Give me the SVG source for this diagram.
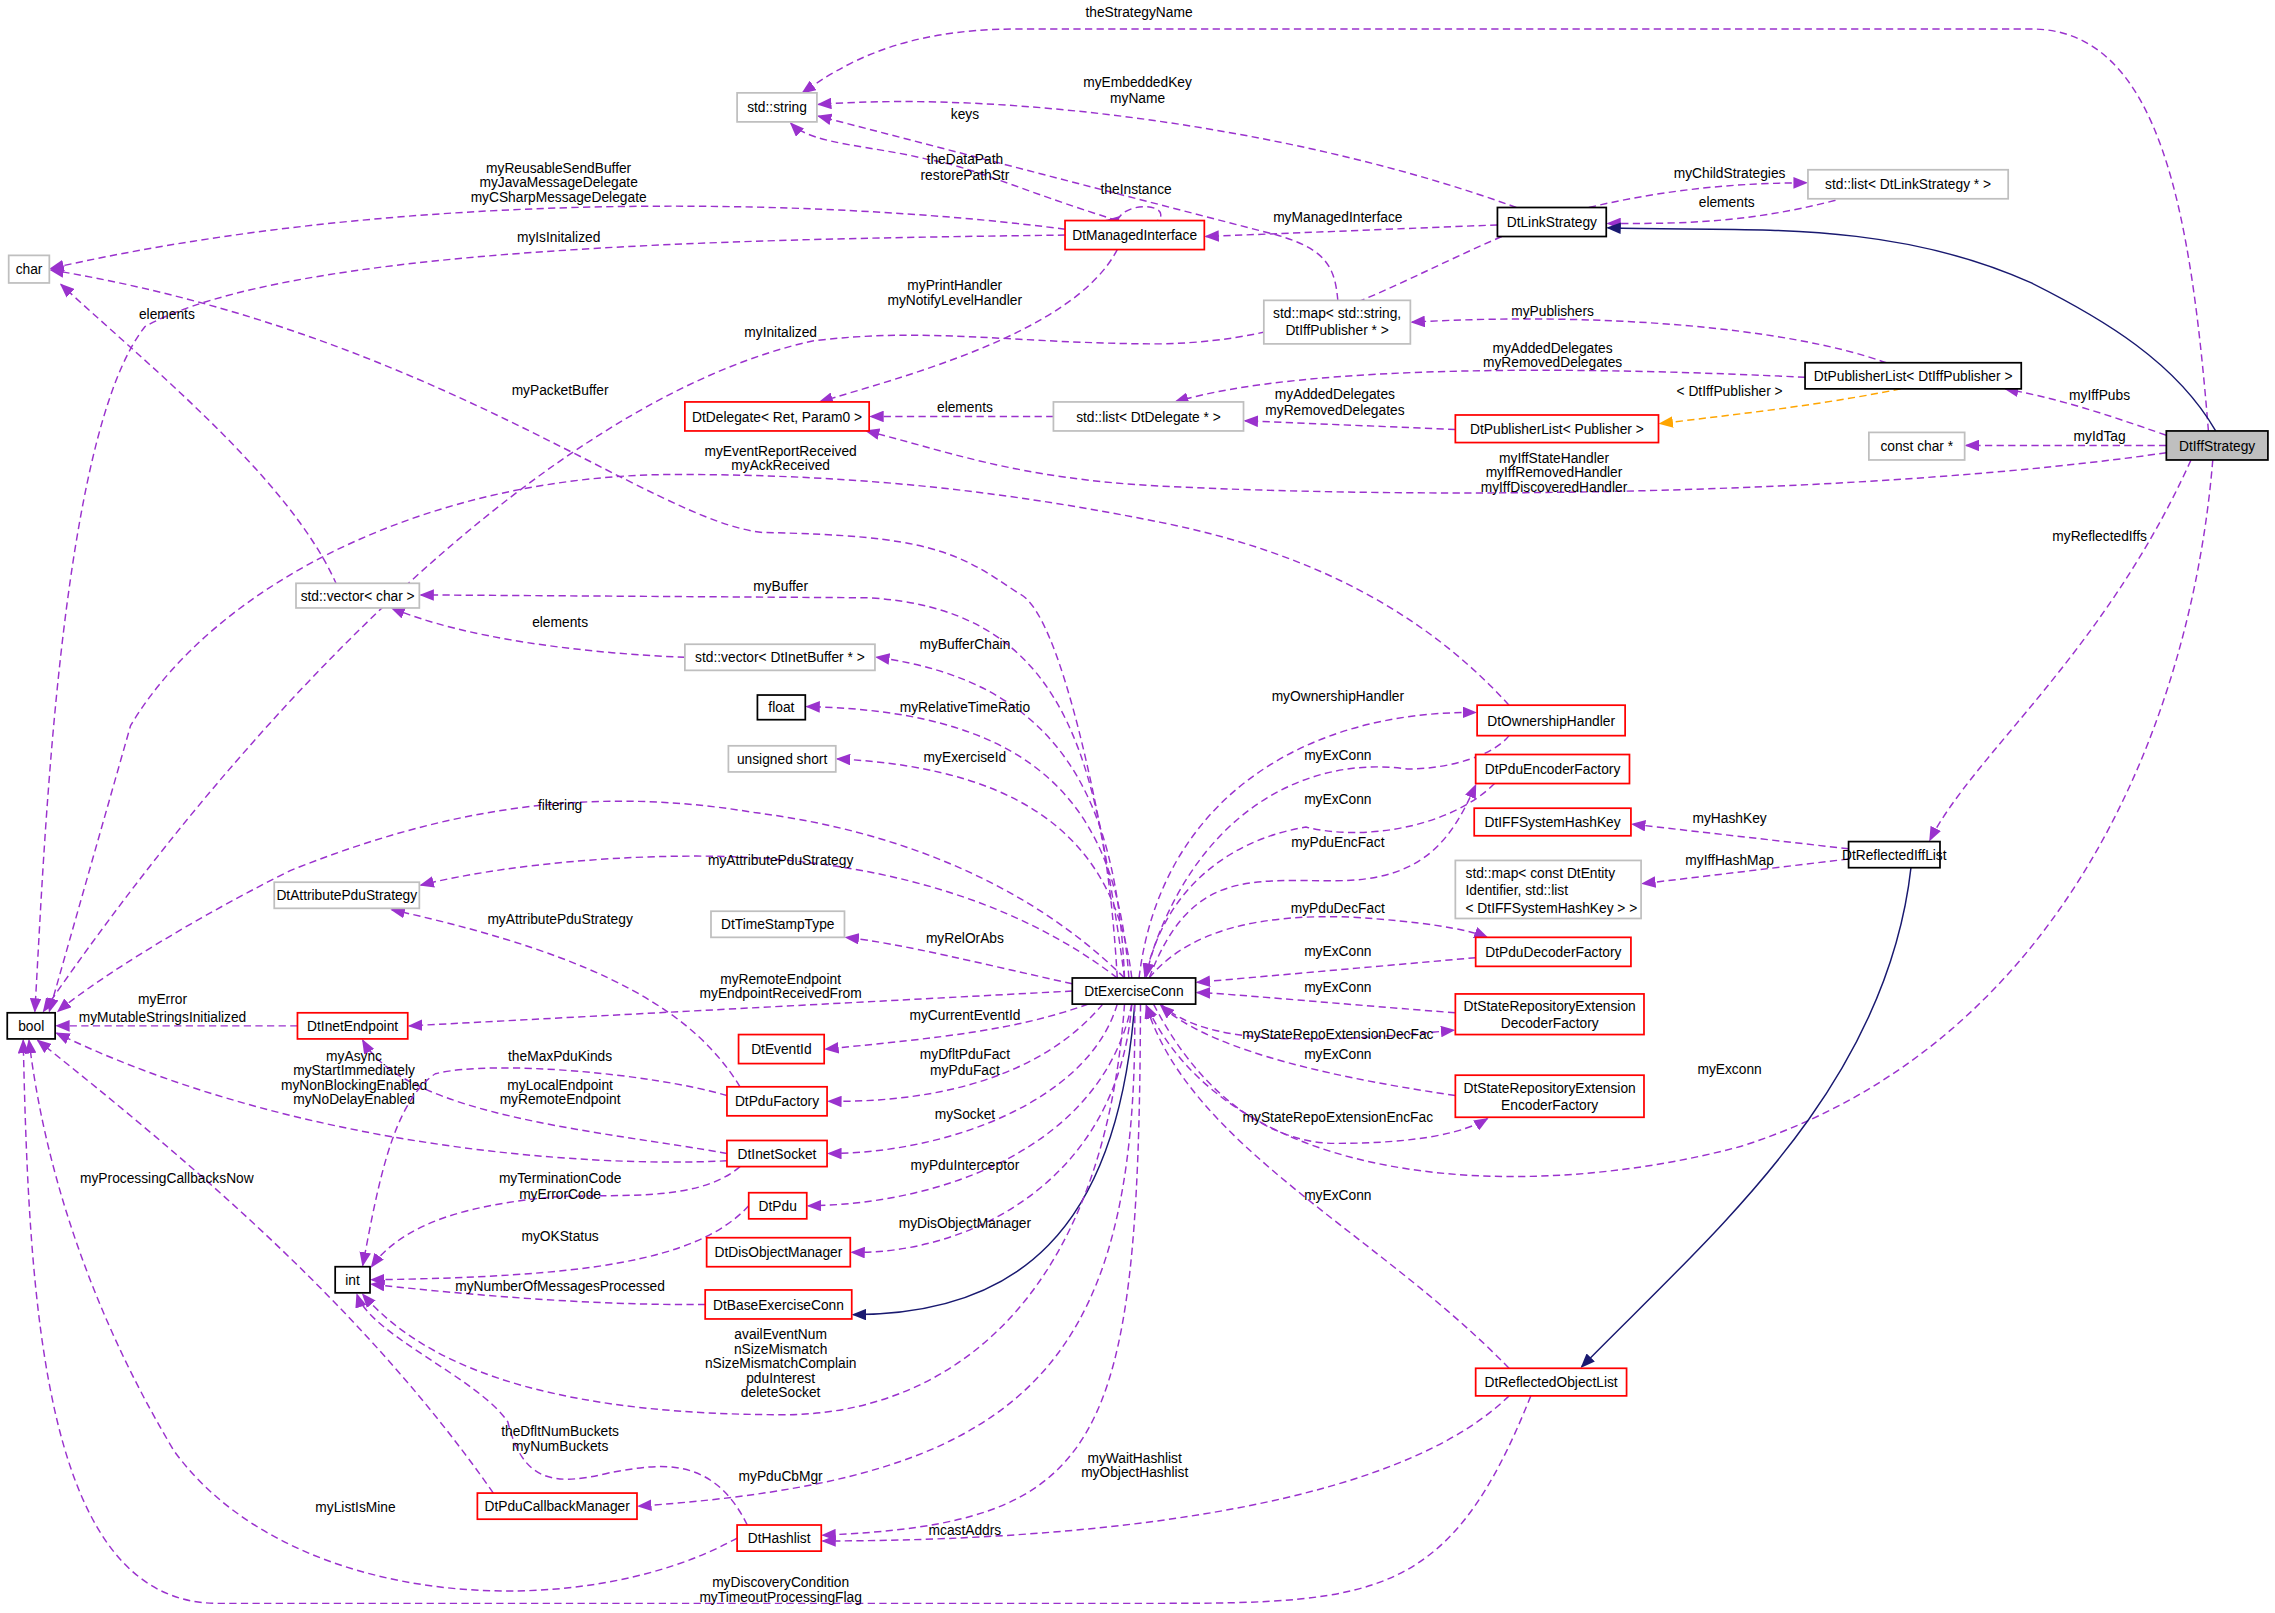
<svg xmlns="http://www.w3.org/2000/svg" width="2275" height="1613" viewBox="0 0 2275 1613">
<style>
text{font-family:"Liberation Sans",Arial,sans-serif;font-size:9.5px;fill:#000;text-anchor:middle}
.k{fill:#fff;stroke:#000;stroke-width:1.2}
.g{fill:#fff;stroke:#bfbfbf;stroke-width:1.2}
.r{fill:#fff;stroke:#ff0000;stroke-width:1.2}
.x{fill:#bfbfbf;stroke:#000;stroke-width:1.2}
.e{fill:none;stroke:#9a32cd;stroke-width:1;stroke-dasharray:5,3;marker-end:url(#mp)}
.s{fill:none;stroke:#191970;stroke-width:1;marker-end:url(#mn)}
.o{fill:none;stroke:#ffa500;stroke-width:1;stroke-dasharray:5,3;marker-end:url(#mo)}
</style>
<defs>
<marker id="mp" markerWidth="10" markerHeight="8" refX="9" refY="4" orient="auto" markerUnits="userSpaceOnUse"><path d="M0,0 L10,4 L0,8 Z" fill="#9a32cd"/></marker>
<marker id="mn" markerWidth="10" markerHeight="8" refX="9" refY="4" orient="auto" markerUnits="userSpaceOnUse"><path d="M0,0 L10,4 L0,8 Z" fill="#191970"/></marker>
<marker id="mo" markerWidth="10" markerHeight="8" refX="9" refY="4" orient="auto" markerUnits="userSpaceOnUse"><path d="M0,0 L10,4 L0,8 Z" fill="#ffa500"/></marker>
</defs>
<rect width="2275" height="1613" fill="#fff"/>
<g transform="scale(1.451)">
<g id="connectors">
<path class="e" d="M1522,297 C1510,150 1490,20 1400,20 L700,20 C620,20 580,45 553,64"/><text x="785" y="12">theStrategyName</text>
<path class="e" d="M1045,143 C900,90 700,62 564,72"/><text x="784" y="60">myEmbeddedKey</text><text x="784" y="71">myName</text>
<path class="e" d="M922,207 C920,185 915,172 880,162 L564,80"/><text x="665" y="82">keys</text>
<path class="e" d="M770,152 C700,130 670,115 640,110 C600,100 560,100 545,85"/><text x="665" y="113">theDataPath</text><text x="665" y="124">restorePathStr</text>
<path class="e" d="M770,152 C775,140 800,140 800,148 C800,155 790,155 762,152"/><text x="783" y="134">theInstance</text>
<path class="e" d="M734,158 C600,140 300,125 35,185"/><text x="385" y="119">myReusableSendBuffer</text><text x="385" y="129">myJavaMessageDelegate</text><text x="385" y="139">myCSharpMessageDelegate</text>
<path class="e" d="M734,162 C500,165 200,170 100,225 C40,300 30,600 24,697"/><text x="385" y="167">myIsInitalized</text>
<path class="e" d="M1032,155 L831,163"/><text x="922" y="153">myManagedInterface</text>
<path class="e" d="M1095,143 C1150,130 1200,126 1245,126"/><text x="1192" y="123">myChildStrategies</text>
<path class="e" d="M1265,138 C1200,155 1150,154 1108,154"/><text x="1190" y="143">elements</text>
<path class="e" d="M1035,163 C950,200 900,235 800,237 C700,237 640,225 560,235 C400,270 200,450 30,697"/><text x="538" y="232">myInitalized</text>
<path class="e" d="M770,172 C740,230 620,260 565,277"/><text x="658" y="200">myPrintHandler</text><text x="658" y="210">myNotifyLevelHandler</text>
<path class="e" d="M726,287 L600,287"/><text x="665" y="284">elements</text>
<path class="e" d="M1300,250 C1230,225 1100,215 973,222"/><text x="1070" y="218">myPublishers</text>
<path class="e" d="M1244,260 C1100,253 900,250 810,277"/><text x="1070" y="243">myAddedDelegates</text><text x="1070" y="253">myRemovedDelegates</text>
<path class="e" d="M1003,296 L858,290"/><text x="920" y="275">myAddedDelegates</text><text x="920" y="286">myRemovedDelegates</text>
<path class="o" d="M1310,268 C1250,280 1200,285 1144,292"/><text x="1192" y="273">&lt; DtIffPublisher &gt;</text>
<path class="e" d="M1493,300 C1450,285 1420,275 1382,268"/><text x="1447" y="276">myIffPubs</text>
<path class="e" d="M1493,307 L1355,307"/><text x="1447" y="304">myIdTag</text>
<path class="e" d="M1493,312 C1300,340 1000,345 800,335 C700,330 650,310 597,297"/><text x="1071" y="319">myIffStateHandler</text><text x="1071" y="329">myIffRemovedHandler</text><text x="1071" y="339">myIffDiscoveredHandler</text>
<path class="s" d="M1527,297 C1500,250 1450,220 1400,195 C1300,150 1200,160 1108,157"/>
<path class="e" d="M1510,317 C1450,450 1360,520 1330,579"/><text x="1447" y="373">myReflectedIffs</text>
<path class="e" d="M1525,317 C1510,500 1420,720 1200,790 C1050,830 850,820 790,693"/><text x="1192" y="740">myExconn</text>
<path class="e" d="M775,674 C760,560 730,420 702,409 C660,380 640,369 526,367 C450,360 300,230 35,186"/><text x="386" y="272">myPacketBuffer</text>
<path class="e" d="M1040,486 C980,420 900,380 800,360 C700,340 600,327 466,327 C300,327 150,400 90,500 L34,697"/><text x="538" y="314">myEventReportReceived</text><text x="538" y="324">myAckReceived</text>
<path class="e" d="M232,403 C200,330 100,250 42,196"/><text x="115" y="220">elements</text>
<path class="e" d="M770,674 C760,500 720,420 600,412 L290,410"/><text x="538" y="407">myBuffer</text>
<path class="e" d="M472,453 C400,450 320,440 270,419"/><text x="386" y="432">elements</text>
<path class="e" d="M775,674 C770,550 730,470 604,453"/><text x="665" y="447">myBufferChain</text>
<path class="e" d="M778,674 C770,560 720,490 556,487"/><text x="665" y="491">myRelativeTimeRatio</text>
<path class="e" d="M780,674 C770,590 720,530 577,523"/><text x="665" y="525">myExerciseId</text>
<path class="e" d="M775,674 C700,600 600,570 520,560 C400,540 300,560 200,600 C120,640 60,680 40,697"/><text x="386" y="558">filtering</text>
<path class="e" d="M770,674 C700,620 600,590 480,590 C400,590 330,600 290,610"/><text x="538" y="596">myAttributePduStrategy</text>
<path class="e" d="M510,749 C480,700 420,660 270,627"/><text x="386" y="637">myAttributePduStrategy</text>
<path class="e" d="M739,678 C680,665 620,650 583,646"/><text x="665" y="650">myRelOrAbs</text>
<path class="e" d="M739,683 L282,707"/><text x="538" y="678">myRemoteEndpoint</text><text x="538" y="688">myEndpointReceivedFrom</text>
<path class="e" d="M205,707 L39,707"/><text x="112" y="692">myError</text><text x="112" y="704">myMutableStringsInitialized</text>
<path class="e" d="M750,692 C700,710 650,715 569,723"/><text x="665" y="703">myCurrentEventId</text>
<path class="e" d="M760,692 C720,740 650,760 571,759"/><text x="665" y="730">myDfltPduFact</text><text x="665" y="741">myPduFact</text>
<path class="e" d="M501,795 C420,780 280,770 250,717"/><text x="386" y="751">myLocalEndpoint</text><text x="386" y="761">myRemoteEndpoint</text>
<path class="e" d="M501,800 C400,805 200,790 39,712"/><text x="244" y="731">myAsync</text><text x="244" y="741">myStartImmediately</text><text x="244" y="751">myNonBlockingEnabled</text><text x="244" y="761">myNoDelayEnabled</text>
<path class="e" d="M501,755 C450,740 340,730 300,740 C270,760 260,820 250,872"/><text x="386" y="731">theMaxPduKinds</text>
<path class="e" d="M770,692 C750,760 650,795 571,795"/><text x="665" y="771">mySocket</text>
<path class="e" d="M510,804 C480,830 420,822 380,825 C330,830 280,840 256,873"/><text x="386" y="815">myTerminationCode</text><text x="386" y="826">myErrorCode</text>
<path class="e" d="M780,692 C760,790 650,830 557,831"/><text x="665" y="806">myPduInterceptor</text>
<path class="e" d="M516,831 C480,870 400,880 256,882"/><text x="386" y="855">myOKStatus</text>
<path class="e" d="M780,692 C770,820 660,865 587,863"/><text x="665" y="846">myDisObjectManager</text>
<path class="e" d="M486,899 C400,900 300,890 256,885"/><text x="386" y="890">myNumberOfMessagesProcessed</text>
<path class="s" d="M782,692 C770,850 700,906 588,906"/>
<path class="e" d="M775,692 C760,900 650,975 540,975 C400,975 300,950 250,892"/><text x="538" y="923">availEventNum</text><text x="538" y="933">nSizeMismatch</text><text x="538" y="943">nSizeMismatchComplain</text><text x="538" y="953">pduInterest</text><text x="538" y="963">deleteSocket</text>
<path class="e" d="M782,692 C785,950 700,1020 440,1038"/><text x="538" y="1021">myPduCbMgr</text>
<path class="e" d="M340,1029 C250,900 130,800 26,717"/><text x="115" y="815">myProcessingCallbacksNow</text>
<path class="e" d="M515,1051 C490,1000 450,1010 420,1015 C380,1025 360,1020 350,980 C330,950 255,920 246,892"/><text x="386" y="990">theDfltNumBuckets</text><text x="386" y="1000">myNumBuckets</text>
<path class="e" d="M786,692 C785,1000 760,1050 567,1058"/><text x="665" y="1058">mcastAddrs</text>
<path class="e" d="M508,1060 C400,1120 200,1110 120,1000 C60,900 30,800 20,717"/><text x="245" y="1042">myListIsMine</text>
<path class="e" d="M1040,962 C950,1050 700,1062 567,1062"/><text x="782" y="1008">myWaitHashlist</text><text x="782" y="1018">myObjectHashlist</text>
<path class="e" d="M1055,962 C1000,1100 950,1105 800,1105 L150,1105 C30,1105 20,900 16,717"/><text x="538" y="1094">myDiscoveryCondition</text><text x="538" y="1104">myTimeoutProcessingFlag</text>
<path class="e" d="M1040,943 C950,850 820,790 790,693"/><text x="922" y="827">myExConn</text>
<path class="s" d="M1317,598 C1300,750 1180,850 1090,942"/>
<path class="e" d="M1274,585 L1125,568"/><text x="1192" y="567">myHashKey</text>
<path class="e" d="M1274,592 L1132,609"/><text x="1192" y="596">myIffHashMap</text>
<path class="e" d="M785,674 C800,550 900,490 1017,491"/><text x="922" y="483">myOwnershipHandler</text>
<path class="e" d="M1040,507 C1030,520 1000,530 970,530 C900,520 820,560 789,673"/><text x="922" y="524">myExConn</text>
<path class="e" d="M1030,540 C1000,570 940,580 900,570 C840,580 800,620 790,673"/><text x="922" y="554">myExConn</text>
<path class="e" d="M792,674 C820,600 860,607 920,607 C980,607 1000,580 1017,541"/><text x="922" y="584">myPduEncFact</text>
<path class="e" d="M792,674 C820,640 870,630 930,632 C980,635 1010,640 1025,646"/><text x="922" y="629">myPduDecFact</text>
<path class="e" d="M1017,660 L825,677"/><text x="922" y="659">myExConn</text>
<path class="e" d="M1003,698 C900,690 850,685 825,684"/><text x="922" y="684">myExConn</text>
<path class="e" d="M800,692 C830,720 900,720 1002,710"/><text x="922" y="716">myStateRepoExtensionDecFac</text>
<path class="e" d="M1003,755 C900,740 830,720 800,693"/><text x="922" y="730">myExConn</text>
<path class="e" d="M795,692 C830,760 880,788 920,788 C980,788 1010,780 1025,771"/><text x="922" y="773">myStateRepoExtensionEncFac</text>
</g>
<g id="n_string"><rect class="g" x="508" y="64" width="55" height="20"/><text x="535.5" y="77.5">std::string</text></g>
<g id="n_char"><rect class="g" x="6" y="176" width="28" height="19"/><text x="20" y="189">char</text></g>
<g id="n_managed"><rect class="r" x="734" y="152" width="96" height="20"/><text x="782" y="165.5">DtManagedInterface</text></g>
<g id="n_link"><rect class="k" x="1032" y="143" width="75" height="20"/><text x="1069.5" y="156.5">DtLinkStrategy</text></g>
<g id="n_listlink"><rect class="g" x="1246" y="117" width="138" height="20"/><text x="1315" y="130.5">std::list&lt; DtLinkStrategy * &gt;</text></g>
<g id="n_mappub"><rect class="g" x="871" y="207" width="101" height="30"/><text x="921.5" y="219">std::map&lt; std::string,</text><text x="921.5" y="231">DtIffPublisher * &gt;</text></g>
<g id="n_publist_iff"><rect class="k" x="1244" y="250" width="149" height="18"/><text x="1318.5" y="262.5">DtPublisherList&lt; DtIffPublisher &gt;</text></g>
<g id="n_delegate"><rect class="r" x="472" y="277" width="127" height="20"/><text x="535.5" y="290.5">DtDelegate&lt; Ret, Param0 &gt;</text></g>
<g id="n_listdel"><rect class="g" x="726" y="277" width="131" height="20"/><text x="791.5" y="290.5">std::list&lt; DtDelegate * &gt;</text></g>
<g id="n_publist"><rect class="r" x="1003" y="286" width="140" height="19"/><text x="1073" y="299">DtPublisherList&lt; Publisher &gt;</text></g>
<g id="n_constchar"><rect class="g" x="1288" y="298" width="66" height="19"/><text x="1321" y="311">const char *</text></g>
<g id="n_iffstrategy"><rect class="x" x="1493" y="297" width="70" height="20"/><text x="1528" y="310.5">DtIffStrategy</text></g>
<g id="n_vecchar"><rect class="g" x="204" y="402" width="85" height="17"/><text x="246.5" y="414">std::vector&lt; char &gt;</text></g>
<g id="n_vecbuf"><rect class="g" x="472" y="444" width="131" height="18"/><text x="537.5" y="456.5">std::vector&lt; DtInetBuffer * &gt;</text></g>
<g id="n_float"><rect class="k" x="522" y="479" width="33" height="17"/><text x="538.5" y="491">float</text></g>
<g id="n_ushort"><rect class="g" x="502" y="514" width="74" height="18"/><text x="539" y="526.5">unsigned short</text></g>
<g id="n_attr"><rect class="g" x="189" y="608" width="100" height="18"/><text x="239" y="620.5">DtAttributePduStrategy</text></g>
<g id="n_ts"><rect class="g" x="490" y="628" width="92" height="18"/><text x="536" y="640.5">DtTimeStampType</text></g>
<g id="n_exconn"><rect class="k" x="739" y="674" width="85" height="18"/><text x="781.5" y="686.5">DtExerciseConn</text></g>
<g id="n_bool"><rect class="k" x="5" y="698" width="33" height="18"/><text x="21.5" y="710.5">bool</text></g>
<g id="n_inetep"><rect class="r" x="205" y="698" width="76" height="18"/><text x="243" y="710.5">DtInetEndpoint</text></g>
<g id="n_eventid"><rect class="r" x="509" y="713" width="59" height="20"/><text x="538.5" y="726.5">DtEventId</text></g>
<g id="n_pdufact"><rect class="r" x="501" y="749" width="69" height="20"/><text x="535.5" y="762.5">DtPduFactory</text></g>
<g id="n_inetsock"><rect class="r" x="501" y="786" width="69" height="18"/><text x="535.5" y="798.5">DtInetSocket</text></g>
<g id="n_pdu"><rect class="r" x="516" y="822" width="40" height="18"/><text x="536" y="834.5">DtPdu</text></g>
<g id="n_disobj"><rect class="r" x="487" y="853" width="99" height="20"/><text x="536.5" y="866.5">DtDisObjectManager</text></g>
<g id="n_int"><rect class="k" x="231" y="873" width="24" height="18"/><text x="243" y="885.5">int</text></g>
<g id="n_baseex"><rect class="r" x="486" y="889" width="101" height="20"/><text x="536.5" y="902.5">DtBaseExerciseConn</text></g>
<g id="n_owner"><rect class="r" x="1018" y="486" width="102" height="21"/><text x="1069" y="500">DtOwnershipHandler</text></g>
<g id="n_enc"><rect class="r" x="1017" y="520" width="106" height="20"/><text x="1070" y="533.5">DtPduEncoderFactory</text></g>
<g id="n_iffhash"><rect class="r" x="1016" y="557" width="108" height="19"/><text x="1070" y="570">DtIFFSystemHashKey</text></g>
<g id="n_mapentity"><rect class="g" x="1003" y="593" width="128" height="40"/><text x="1010" y="605" style="text-anchor:start">std::map&lt; const DtEntity</text><text x="1010" y="617" style="text-anchor:start">Identifier, std::list</text><text x="1010" y="629" style="text-anchor:start">&lt; DtIFFSystemHashKey &gt; &gt;</text></g>
<g id="n_refliff"><rect class="k" x="1274" y="580" width="63" height="18"/><text x="1305.5" y="592.5">DtReflectedIffList</text></g>
<g id="n_dec"><rect class="r" x="1017" y="646" width="107" height="20"/><text x="1070.5" y="659.5">DtPduDecoderFactory</text></g>
<g id="n_srdec"><rect class="r" x="1003" y="685" width="130" height="28"/><text x="1068" y="696.5">DtStateRepositoryExtension</text><text x="1068" y="708.5">DecoderFactory</text></g>
<g id="n_srenc"><rect class="r" x="1003" y="741" width="130" height="29"/><text x="1068" y="753">DtStateRepositoryExtension</text><text x="1068" y="765">EncoderFactory</text></g>
<g id="n_reflobj"><rect class="r" x="1017" y="943" width="104" height="19"/><text x="1069" y="956">DtReflectedObjectList</text></g>
<g id="n_pducb"><rect class="r" x="329" y="1029" width="110" height="18"/><text x="384" y="1041.5">DtPduCallbackManager</text></g>
<g id="n_hashlist"><rect class="r" x="508" y="1051" width="58" height="18"/><text x="537" y="1063.5">DtHashlist</text></g>
</g>
</svg>
